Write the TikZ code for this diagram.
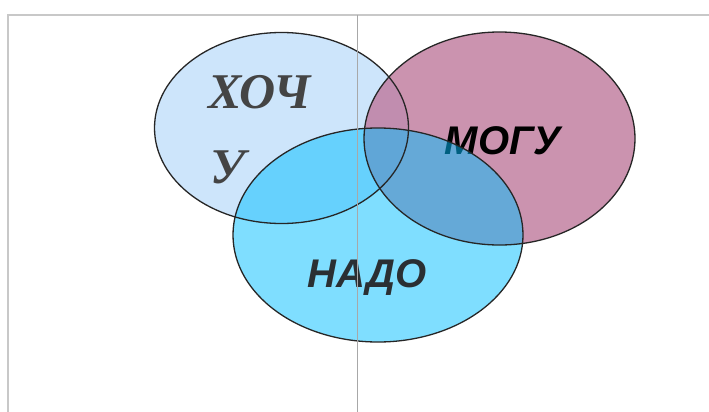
\documentclass[tikz,border=0pt]{standalone}
\usepackage{fontspec}
\setmainfont{Liberation Serif}
\newfontfamily\venns{Liberation Sans}
\usetikzlibrary{shapes.geometric}
\definecolor{frameg}{HTML}{C8C8C8}
\definecolor{midg}{HTML}{A8A8A8}
\definecolor{khfill}{HTML}{CDE5FB}
\definecolor{mgfill}{RGB}{190,120,156}
\definecolor{ndfill}{HTML}{00BFFF}
\definecolor{outl}{HTML}{262626}
\definecolor{khtext}{HTML}{444444}
\definecolor{ndtext}{HTML}{2A2F33}
\tikzset{
  blob/.style={ellipse, inner sep=0pt, outer sep=0pt},
  rim/.style={draw=outl, line width=1.3pt},
  framel/.style={draw=frameg, line width=1.3pt},
}
\begin{document}
\begin{tikzpicture}[x=1pt,y=-1pt]
\useasboundingbox (0,0) rectangle (709,412);
\fill[white] (0,0) rectangle (709,412);
% frame
\coordinate (ftl) at (8,15);
\coordinate (ftr) at (709,15);
\coordinate (fbl) at (8,412);
\draw[framel] (ftr) -- (ftl) -- (fbl);
% fills
\node[blob, fill=khfill, minimum width=254pt, minimum height=191pt] (khochu) at (281.5,128) {};
\node[anchor=base west, text=khtext, font=\fontsize{50}{50}\selectfont\bfseries\itshape] (t1) at (205,108) {ХОЧ};
\node[anchor=base west, text=khtext, font=\fontsize{50}{50}\selectfont\bfseries\itshape] (t2) at (207,183) {У};
\node[blob, fill=mgfill, fill opacity=0.8, minimum width=271pt, minimum height=213pt] (mogu) at (499.5,138.5) {};
\node[anchor=base, text=black, font=\venns\fontsize{40}{40}\selectfont\bfseries\itshape] (t3) at (503,154) {МОГУ};
\node[blob, fill=ndfill, fill opacity=0.5, minimum width=290pt, minimum height=214pt] (nado) at (378,235) {};
\node[anchor=base, text=ndtext, font=\venns\fontsize{40}{40}\selectfont\bfseries\itshape] (t4) at (367,287) {НАДО};
% outlines
\draw[rim] (khochu.center) ellipse [x radius=127, y radius=95.5];
\draw[rim] (mogu.center) ellipse [x radius=135.5, y radius=106.5];
\draw[rim] (nado.center) ellipse [x radius=145, y radius=107];
% vertical line
\coordinate (vt) at (357,15);
\coordinate (vb) at (357,412);
\draw[midg, line width=0.9pt] (vt) -- (vb);
\end{tikzpicture}
\end{document}
